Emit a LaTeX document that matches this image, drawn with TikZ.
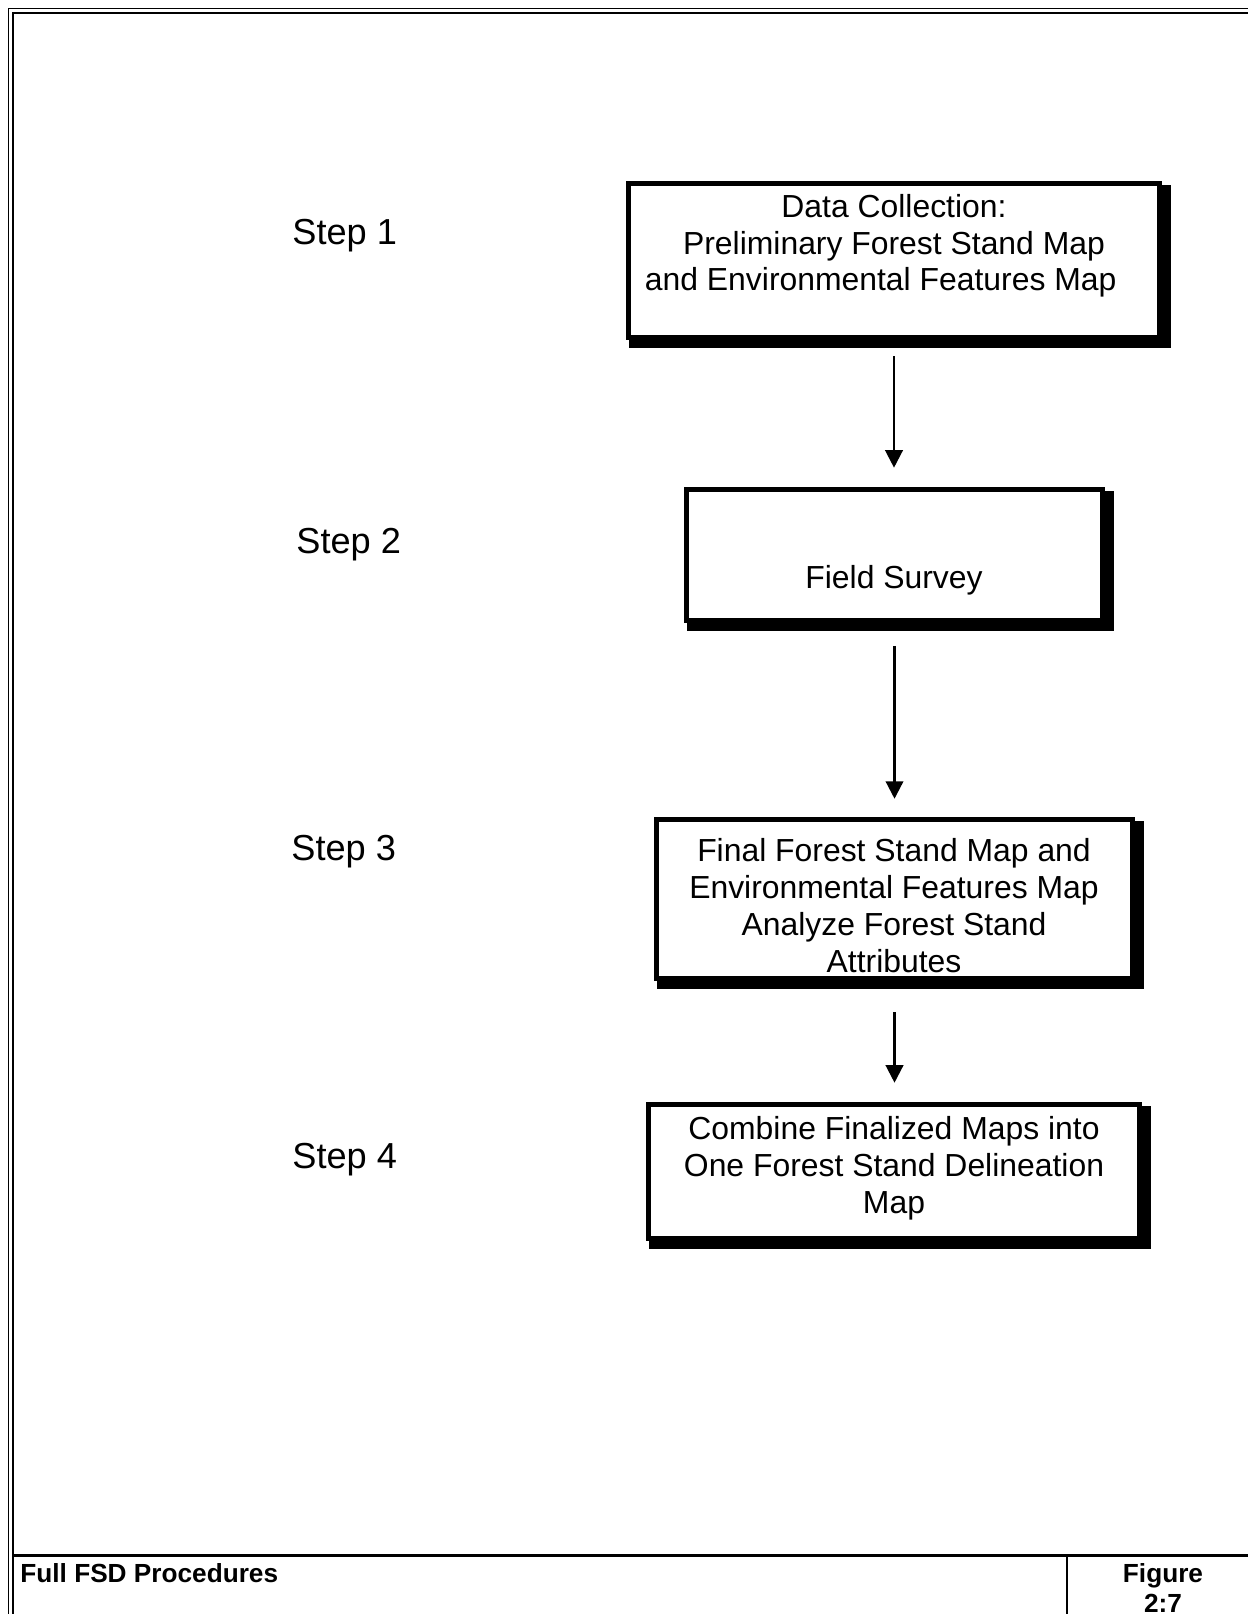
\documentclass[tikz,border=0pt]{standalone}
\usepackage{fontspec}
\setmainfont{Liberation Sans}
\usetikzlibrary{arrows.meta,backgrounds}
\tikzset{
  stepbox/.style={draw=black, fill=white, line width=2.6pt, rectangle, inner sep=0pt},
  boxtext/.style={align=center, inner sep=0pt, anchor=base, font=\fontsize{15.7}{18.14}\selectfont},
  steplabel/.style={inner sep=0pt, anchor=base west, font=\fontsize{17.8}{21}\selectfont},
  foot/.style={inner sep=0pt, font=\fontsize{12.9}{14.7}\selectfont\bfseries},
  flow/.style={line width=1.1pt, -{Triangle[width=8.6pt,length=8.6pt]}},
}
\begin{document}
\begin{tikzpicture}[x=0.0172997cm, y=-0.0172997cm]
\useasboundingbox (0,0) rectangle (1248,1614);
% page frame
\draw[line width=0.74pt] (8.7,1614) -- (8.7,8.7) -- (1248,8.7);
\draw[line width=0.98pt] (13,1614) -- (13,13) -- (1248,13);
\draw[line width=1.1pt] (13,1555.5) -- (1248,1555.5);
\draw[line width=1.1pt] (1066.7,1555.5) -- (1066.7,1614);
% boxes
\node[stepbox, minimum width=261.37pt, minimum height=75.52pt] (b1) at (894,260.5) {};
\node[stepbox, minimum width=204.98pt, minimum height=64.24pt] (b2) at (894.5,555) {};
\node[stepbox, minimum width=234.40pt, minimum height=77.97pt] (b3) at (894.5,899) {};
\node[stepbox, minimum width=241.76pt, minimum height=65.71pt] (b4) at (894,1171.5) {};
\begin{scope}[on background layer]
  \foreach \b in {b1,b2,b3,b4}{
    \fill ([shift={(3.5,3.5)}]\b.north west) rectangle ([shift={(8.5,8.5)}]\b.south east);
  }
\end{scope}
% box texts (anchor base = baseline of last line)
\node[boxtext] (t1) at (894,291) {Data Collection:\\Preliminary Forest Stand Map\\and Environmental Features Map\hspace*{13.1pt}};
\node[boxtext] (t2) at (894,588) {Field Survey};
\node[boxtext] (t3) at (894,972) {Final Forest Stand Map and\\Environmental Features Map\\Analyze Forest Stand\\Attributes};
\node[boxtext] (t4) at (894,1213) {Combine Finalized Maps into\\One Forest Stand Delineation\\Map};
% step labels
\node[steplabel] (s1) at (292,245) {Step 1};
\node[steplabel] (s2) at (296,553) {Step 2};
\node[steplabel] (s3) at (291,860.5) {Step 3};
\node[steplabel] (s4) at (292,1168) {Step 4};
% arrows
\draw[flow, shorten <=8.09pt, shorten >=9.56pt] (b1.south) -- (b1.south |- b2.north);
\draw[flow, shorten <=11.28pt, shorten >=9.07pt] (b2.south) -- (b2.south |- b3.north);
\draw[flow, shorten <=15.45pt, shorten >=9.56pt] (b3.south) -- (b3.south |- b4.north);
% footer
\node[foot, anchor=base west] (f1) at (20,1582) {Full FSD Procedures};
\node[foot, anchor=base, align=center] (f2) at (1163,1612) {Figure\\2:7};
\end{tikzpicture}
\end{document}
